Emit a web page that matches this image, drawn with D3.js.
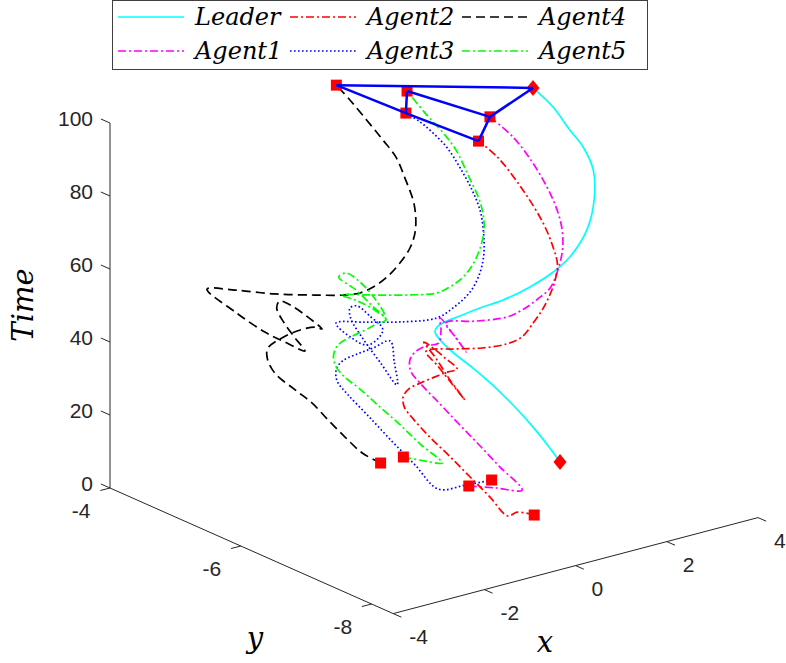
<!DOCTYPE html>
<html>
<head>
<meta charset="utf-8">
<script src="https://cdn.jsdelivr.net/npm/d3@7"></script>
<style>
  body { margin: 0; background: #fff; }
  svg { display: block; }
  .tk { font-family: "Liberation Sans", Arial, sans-serif; font-size: 21px; fill: #262626; }
  .lab { font-family: "DejaVu Serif", serif; font-style: italic; fill: #000; }
</style>
</head>
<body>
<svg width="786" height="663"></svg>
<script>
// axis limits and ticks
const xLim = [-4, 4], yLim = [-4, -8.33], zLim = [0, 100];
const xTicks = [-4, -2, 0, 2, 4];
const yTicks = [-4, -6, -8];
const zTicks = [0, 20, 40, 60, 80, 100];

// leader
const tLeader = [0, 4.5, 11.5, 19, 26.7, 32, 37.8, 42.1, 44.6, 45.8, 46.4, 47.0, 48.6, 50.0, 52.8, 56.1, 59.4, 65.9, 73.4, 80.8, 86.3, 90.1, 95.6, 100];
const xLeader = [3.00, 2.78, 2.41, 1.97, 1.47, 1.09, 0.65, 0.37, 0.26, 0.30, 0.50, 0.76, 1.17, 1.58, 2.04, 2.45, 2.77, 3.10, 3.29, 3.37, 3.32, 3.23, 3.09, 2.91];
const yLeader = [-6.00, -6.00, -6.00, -6.00, -6.00, -6.00, -6.00, -6.00, -6.00, -6.00, -5.98, -5.99, -6.05, -6.12, -6.21, -6.28, -6.31, -6.34, -6.32, -6.25, -6.13, -5.99, -5.83, -5.65];

// agent 1
const t1 = [0, 1, 2, 6.85, 11.28, 15.71, 20.13, 24.35, 27.09, 29.41, 31.1, 32.37, 33, 36, 39, 41.5, 44, 46, 48, 49, 50, 52.0, 54.5, 57.25, 61.25, 66.75, 71.75, 76.75, 82.5, 89.25, 95.0, 100];
const x1 = [1.00, 1.19, 1.38, 1.24, 1.12, 0.99, 0.87, 0.75, 0.70, 0.77, 0.90, 1.09, 1.28, 1.38, 1.40, 0.82, 0.14, 0.21, 0.31, 0.66, 1.11, 1.36, 1.58, 1.78, 1.92, 2.05, 2.10, 2.09, 2.01, 1.86, 1.68, 1.42];
const y1 = [-6.00, -6.27, -6.55, -6.31, -6.09, -5.87, -5.65, -5.44, -5.32, -5.26, -5.25, -5.28, -5.34, -5.31, -5.28, -5.87, -6.56, -6.36, -6.13, -6.34, -6.51, -6.59, -6.65, -6.70, -6.71, -6.70, -6.66, -6.59, -6.49, -6.35, -6.20, -6.03];

// agent 2
const t2 = [0, 1, 2, 6.01, 10.22, 14.44, 18.66, 22.45, 24.99, 27.09, 28.78, 30.05, 31.31, 32.37, 33, 35, 37, 39, 40.5, 42, 43.5, 45, 46.5, 48, 48.7, 49.4, 50, 51.7, 55.2, 58.4, 61.3, 65.0, 69.5, 73.9, 79.8, 87.9, 96.1, 100];
const x2 = [1.00, 0.74, 0.38, 0.27, 0.14, 0.01, -0.13, -0.23, -0.27, -0.21, -0.07, 0.12, 0.36, 0.59, 0.73, 0.68, 0.60, 0.43, -0.07, -0.73, -1.31, -1.16, -0.97, -0.84, -0.46, -0.13, 0.27, 0.50, 0.69, 0.86, 0.98, 1.11, 1.21, 1.21, 1.14, 0.97, 0.72, 0.51];
const y2 = [-7.00, -6.92, -7.03, -6.83, -6.62, -6.41, -6.19, -6.01, -5.90, -5.84, -5.83, -5.87, -5.92, -5.97, -6.01, -5.86, -5.73, -5.71, -6.24, -6.92, -7.55, -7.25, -6.90, -6.63, -6.80, -6.99, -7.09, -7.16, -7.20, -7.22, -7.23, -7.23, -7.21, -7.14, -7.04, -6.85, -6.63, -6.49];

// agent 3
const t3 = [0, 1, 2, 7.03, 12.05, 17.29, 21.9, 24.62, 27.13, 28.81, 30.28, 31.53, 33, 34.5, 36, 37.5, 39, 40.5, 42, 43, 44, 45, 46, 47, 48, 48.7, 49.4, 50, 52.9, 56.3, 60.5, 65.4, 70.2, 75.9, 81.2, 86.6, 91.5, 95.1, 97.8, 100];
const x3 = [1.50, 0.87, 0.26, 0.12, -0.03, -0.17, -0.30, -0.34, -0.27, -0.12, 0.13, 0.39, 0.68, -0.09, -0.93, -0.62, -0.33, 0.00, 0.13, 0.18, -0.07, -0.44, -1.22, -1.34, -1.21, -0.86, -0.45, 0.11, 0.40, 0.65, 0.84, 0.97, 1.04, 1.07, 1.03, 0.94, 0.83, 0.69, 0.55, 0.38];
const y3 = [-6.00, -6.04, -6.05, -5.79, -5.54, -5.28, -5.05, -4.92, -4.86, -4.85, -4.90, -4.96, -5.02, -5.62, -6.25, -5.77, -5.32, -4.89, -4.79, -4.86, -5.23, -5.69, -6.01, -5.84, -5.51, -5.71, -5.96, -6.13, -6.21, -6.26, -6.27, -6.25, -6.20, -6.13, -6.03, -5.91, -5.79, -5.67, -5.57, -5.47];

// agent 4
const t4 = [0, 2.55, 6.75, 11.2, 15.7, 19.1, 23.5, 27.4, 30, 32, 34, 36, 37, 38, 39, 40, 41, 42, 43, 44, 45, 46, 47, 48, 48.5, 49, 49.5, 50, 50.5, 51.9, 54.3, 57.6, 61.4, 65.5, 71.4, 77.9, 82.9, 86.9, 91.6, 96.4, 100];
const x4 = [0.50, 0.27, 0.05, -0.16, -0.36, -0.57, -0.83, -0.91, -0.88, -0.56, -0.33, -0.26, -0.34, -0.25, -0.26, -0.39, -0.76, -1.24, -1.65, -2.05, -2.16, -2.24, -2.14, -1.93, -1.63, -1.26, -0.80, -0.47, -0.23, -0.02, 0.21, 0.45, 0.65, 0.79, 0.88, 0.86, 0.82, 0.71, 0.57, 0.42, 0.29];
const y4 = [-5.00, -4.88, -4.77, -4.66, -4.55, -4.44, -4.31, -4.25, -4.24, -4.25, -4.35, -4.53, -4.69, -4.37, -4.15, -4.08, -4.29, -4.74, -5.18, -5.62, -5.39, -5.14, -4.62, -4.04, -4.26, -4.61, -4.90, -5.10, -5.19, -5.25, -5.30, -5.33, -5.35, -5.33, -5.25, -5.12, -5.01, -4.89, -4.74, -4.59, -4.47];

// agent 5
const t5 = [0, 1, 2, 6.38, 10.77, 14.92, 19.08, 21.85, 24.15, 26.46, 29.0, 30.85, 32.46, 34.08, 35, 38, 40.5, 43, 44, 44.8, 45.5, 46.2, 46.8, 47.4, 48, 48.7, 49.4, 50, 51.5, 53.96, 57.67, 62.6, 66.8, 72.5, 79.2, 84.9, 89.1, 94.1, 100];
const x5 = [1.00, 1.06, 1.12, 0.91, 0.73, 0.54, 0.35, 0.20, 0.13, 0.14, 0.25, 0.44, 0.68, 0.90, 1.05, 0.95, 0.94, 0.83, 0.94, 0.76, 0.38, -0.11, -0.11, -0.16, -0.27, 0.12, 0.52, 0.89, 1.09, 1.29, 1.49, 1.66, 1.74, 1.75, 1.67, 1.59, 1.47, 1.28, 1.08];
const y5 = [-5.00, -5.29, -5.51, -5.32, -5.14, -4.96, -4.79, -4.66, -4.58, -4.53, -4.51, -4.55, -4.61, -4.66, -4.70, -4.56, -4.32, -4.13, -4.17, -4.50, -4.99, -5.49, -5.26, -5.07, -4.93, -5.18, -5.43, -5.59, -5.65, -5.71, -5.74, -5.74, -5.72, -5.65, -5.52, -5.41, -5.31, -5.16, -5.00];

// formation links at final time (names)
const links = [["Leader", "Agent4"], ["Agent4", "Agent3"], ["Agent5", "Agent3"], ["Agent5", "Agent1"],
               ["Leader", "Agent1"], ["Agent3", "Agent2"], ["Agent1", "Agent2"]];

const series = [
  {name: "Leader", t: tLeader, x: xLeader, y: yLeader, color: "#00ffff", dash: null},
  {name: "Agent1", t: t1, x: x1, y: y1, color: "#ff00ff", dash: "8,3,2,3"},
  {name: "Agent2", t: t2, x: x2, y: y2, color: "#ff0000", dash: "8,3,2,3"},
  {name: "Agent3", t: t3, x: x3, y: y3, color: "#0000ff", dash: "1.6,2.4"},
  {name: "Agent4", t: t4, x: x4, y: y4, color: "#000000", dash: "9,5"},
  {name: "Agent5", t: t5, x: x5, y: y5, color: "#00ff00", dash: "8,3,2,3"}
];

//----------------------------------------------------------
let svg = d3.select("svg");

let xs = d3.scaleLinear().domain(xLim).range([0, 1]);
let ys = d3.scaleLinear().domain(yLim).range([0, 1]);
let zs = d3.scaleLinear().domain(zLim).range([0, 1]);

// projected box: corner (x=-4,y=-4,z=0) and edge vectors on screen
const O = [110, 488], VX = [364.8, -96], VY = [283.2, 125.6], VZ = [0, -365];
function proj(x, y, z) {
  let a = xs(x), b = ys(y), c = zs(z);
  return [O[0] + a*VX[0] + b*VY[0] + c*VZ[0], O[1] + a*VX[1] + b*VY[1] + c*VZ[1]];
}

let axisG = svg.append("g").attr("stroke", "#262626").attr("stroke-width", 1).attr("fill", "none");
function seg(p, q) {
  axisG.append("line").attr("x1", p[0]).attr("y1", p[1]).attr("x2", q[0]).attr("y2", q[1]);
}
seg(proj(-4, -4, 0), proj(-4, -4, 100));
seg(proj(-4, -4, 0), proj(-4, yLim[1], 0));
seg(proj(-4, yLim[1], 0), proj(4, yLim[1], 0));

let tickG = svg.append("g");
// z ticks
zTicks.forEach(function(v) {
  let p = proj(-4, -4, v);
  seg(p, [p[0] - 9.1, p[1] - 4.0]);
  tickG.append("text").attr("class", "tk").attr("x", p[0] - 17).attr("y", p[1] - 5)
    .attr("dy", "0.36em").attr("text-anchor", "end").text(String(v));
});
// y ticks
yTicks.forEach(function(v) {
  let p = proj(-4, v, 0);
  seg(p, [p[0] - 9.7, p[1] + 2.5]);
  tickG.append("text").attr("class", "tk").attr("x", p[0] - 19.5).attr("y", p[1] + 22)
    .attr("dy", "0.36em").attr("text-anchor", "end").text(String(v));
});
// x ticks
xTicks.forEach(function(v) {
  let p = proj(v, yLim[1], 0);
  seg(p, [p[0] + 8.2, p[1] + 3.6]);
  tickG.append("text").attr("class", "tk").attr("x", p[0] + 16).attr("y", p[1] + 22.5)
    .attr("dy", "0.36em").attr("text-anchor", "start").text(String(v));
});

// axis labels
svg.append("text").attr("class", "lab").attr("font-size", 29)
  .attr("transform", "translate(33,305) rotate(-90)").attr("text-anchor", "middle").text("Time");
svg.append("text").attr("class", "lab").attr("font-size", 29)
  .attr("x", 255).attr("y", 648).attr("text-anchor", "middle").text("y");
svg.append("text").attr("class", "lab").attr("font-size", 29)
  .attr("x", 545).attr("y", 652).attr("text-anchor", "middle").text("x");

// trajectories
let line = d3.line().curve(d3.curveCatmullRom.alpha(0.5));
series.forEach(function(s) {
  let pts = s.t.map(function(tt, i) { return proj(s.x[i], s.y[i], tt); });
  s.pts = pts;
  svg.append("path").attr("d", line(pts)).attr("fill", "none")
    .attr("stroke", s.color).attr("stroke-width", 1.7)
    .attr("stroke-dasharray", s.dash);
});

// start / end markers
let markG = svg.append("g").attr("fill", "#ff0000");
series.forEach(function(s) {
  [s.pts[0], s.pts[s.pts.length - 1]].forEach(function(p) {
    if (s.name == "Leader") {
      markG.append("path").attr("d", "M" + p[0] + "," + (p[1] - 8) + "l6.5,8l-6.5,8l-6.5,-8z");
    } else {
      markG.append("rect").attr("x", p[0] - 5.5).attr("y", p[1] - 5.5).attr("width", 11).attr("height", 11);
    }
  });
});

// formation at final time
let byName = {};
series.forEach(function(s) { byName[s.name] = s.pts[s.pts.length - 1]; });
links.forEach(function(l) {
  let p = byName[l[0]], q = byName[l[1]];
  svg.append("line").attr("x1", p[0]).attr("y1", p[1]).attr("x2", q[0]).attr("y2", q[1])
    .attr("stroke", "#0000ff").attr("stroke-width", 2.5);
});

// legend
let leg = svg.append("g");
leg.append("rect").attr("x", 112.5).attr("y", 0.5).attr("width", 535).attr("height", 69)
  .attr("fill", "#fff").attr("stroke", "#404040").attr("stroke-width", 1);
const colX = [118, 290, 462], rowY = [17, 51];
series.forEach(function(s, i) {
  let cx = colX[Math.floor(i / 2)], cy = rowY[i % 2];
  leg.append("line").attr("x1", cx).attr("y1", cy).attr("x2", cx + 66).attr("y2", cy)
    .attr("stroke", s.color).attr("stroke-width", 1.7).attr("stroke-dasharray", s.dash);
  leg.append("text").attr("class", "lab").attr("font-size", 24)
    .attr("x", cx + 77).attr("y", cy).attr("dy", "0.33em").text(s.name);
});
</script>
</body>
</html>
